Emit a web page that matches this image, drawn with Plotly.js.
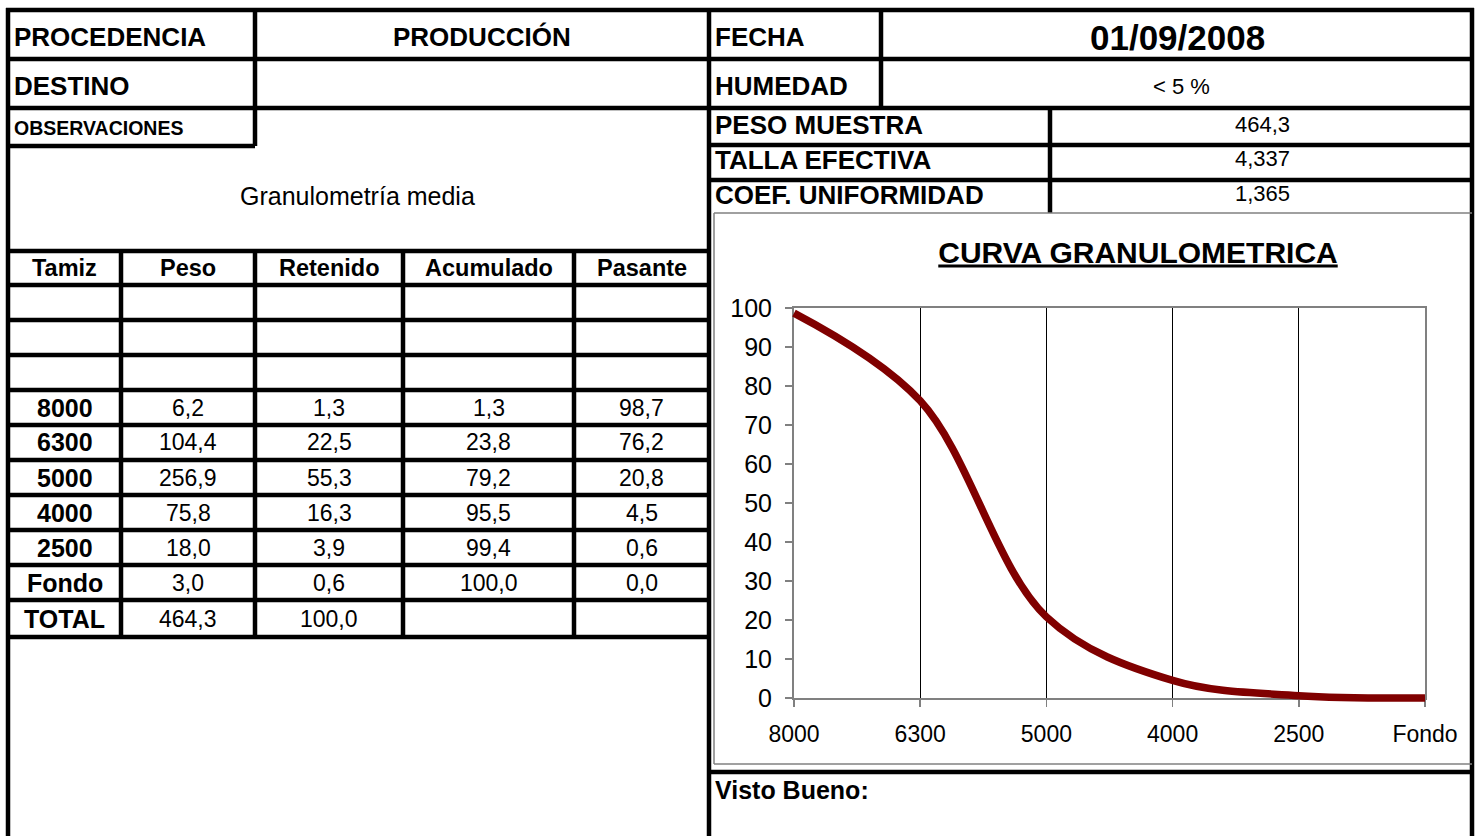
<!DOCTYPE html>
<html>
<head>
<meta charset="utf-8">
<script src="https://cdn.plot.ly/plotly-3.0.1.min.js"></script>
<style>
html,body{margin:0;padding:0;background:#fff;}
#chart{width:1480px;height:836px;}
</style>
</head>
<body>
<div id="chart"></div>
<script>
// ---- data ----
const tamiz = ['8000', '6300', '5000', '4000', '2500', 'Fondo'];
const peso = [6.2, 104.4, 256.9, 75.8, 18.0, 3.0];
const retenido = [1.3, 22.5, 55.3, 16.3, 3.9, 0.6];
const acumulado = [1.3, 23.8, 79.2, 95.5, 99.4, 100.0];
const pasante = [98.7, 76.2, 20.8, 4.5, 0.6, 0.0];
const totalPeso = 464.3;
const totalRetenido = 100.0;
const headers = ['Tamiz', 'Peso', 'Retenido', 'Acumulado', 'Pasante'];
const procedencia = 'PRODUCCIÓN';
const fecha = '01/09/2008';
const humedad = '< 5 %';
const pesoMuestra = '464,3';
const tallaEfectiva = '4,337';
const coefUniformidad = '1,365';
const chartTitle = 'CURVA GRANULOMETRICA';
const yTicks = [0, 10, 20, 30, 40, 50, 60, 70, 80, 90, 100];

// ---- helpers ----
const W = 1480, H = 836;
const FONT = 'Liberation Sans, Arial, sans-serif';
const px = x => x / W;
const py = y => 1 - y / H;
const fmt = v => v.toFixed(1).replace('.', ',');

const shapes = [];
function hl(y, x0, x1, w, c) {
  shapes.push({type: 'line', xref: 'paper', yref: 'paper', x0: px(x0), x1: px(x1), y0: py(y), y1: py(y),
    line: {color: c || '#000', width: w || 4.5}});
}
function vl(x, y0, y1, w, c) {
  shapes.push({type: 'line', xref: 'paper', yref: 'paper', x0: px(x), x1: px(x), y0: py(y0), y1: py(y1),
    line: {color: c || '#000', width: w || 4.5}});
}
const annotations = [];
function txt(t, x, y, size, bold, anchor) {
  annotations.push({text: bold ? '<b>' + t + '</b>' : t, xref: 'paper', yref: 'paper',
    x: px(x), y: py(y), xanchor: anchor || 'center', yanchor: 'middle', showarrow: false,
    font: {family: FONT, size: size, color: '#000'}});
}

// ---- form grid ----
const L = 8, M = 709, R = 1472;
hl(10, L - 2, R + 2);
hl(59, L, R);
hl(108, L, R);
hl(146, L, 255);
vl(L, 8, 836);
vl(255, 10, 146);
vl(M, 8, 836);
vl(R, 8, 836);
// table
const rowLines = [251, 285, 320, 355, 390, 425, 460, 495, 530, 565, 600, 637];
rowLines.forEach(y => hl(y, L, M));
const colX = [L, 121, 255, 403, 574, M];
colX.slice(1, 5).forEach(x => vl(x, 251, 637));
// right block
vl(881, 10, 108);
hl(145, M, R);
hl(180, M, R);
vl(1050, 108, 213);
// chart box (thin grey)
hl(213, 714, R, 1.5, '#808080');
vl(714, 213, 764, 1.5, '#808080');
hl(764, 714, R, 1.5, '#808080');
hl(772, M, R);

// ---- texts ----
txt('PROCEDENCIA', 12, 37, 26, true, 'left');
txt(procedencia, 482, 37, 26, true);
txt('DESTINO', 12, 86, 26, true, 'left');
txt('OBSERVACIONES', 12, 128, 19.5, true, 'left');
txt('Granulometría media', 357, 196, 25, false);
headers.forEach((h, i) => txt(h, (colX[i] + colX[i + 1]) / 2, 268, 23.5, true));
const rowY = [407.5, 442.5, 477.5, 512.5, 547.5, 582.5];
tamiz.forEach((t, i) => {
  const y = rowY[i];
  txt(t, (colX[0] + colX[1]) / 2, y, 25, true);
  txt(fmt(peso[i]), (colX[1] + colX[2]) / 2, y, 23, false);
  txt(fmt(retenido[i]), (colX[2] + colX[3]) / 2, y, 23, false);
  txt(fmt(acumulado[i]), (colX[3] + colX[4]) / 2, y, 23, false);
  txt(fmt(pasante[i]), (colX[4] + colX[5]) / 2, y, 23, false);
});
txt('TOTAL', (colX[0] + colX[1]) / 2, 619, 25, true);
txt(fmt(totalPeso), (colX[1] + colX[2]) / 2, 619, 23, false);
txt(fmt(totalRetenido), (colX[2] + colX[3]) / 2, 619, 23, false);

txt('FECHA', 713, 37, 26, true, 'left');
txt(fecha, 1177, 37, 35, true);
txt('HUMEDAD', 713, 86, 26, true, 'left');
txt(humedad, 1181, 86, 22, false);
txt('PESO MUESTRA', 713, 125, 26, true, 'left');
txt(pesoMuestra, 1262, 124, 22, false);
txt('TALLA EFECTIVA', 713, 160, 26, true, 'left');
txt(tallaEfectiva, 1262, 159, 22, false);
txt('COEF. UNIFORMIDAD', 713, 195, 26, true, 'left');
txt(coefUniformidad, 1262, 194, 22, false);
txt('Visto Bueno:', 713, 790, 25, true, 'left');

// ---- chart geometry ----
const pL = 794, pR = 1425, pT = 308, pB = 698;
const ux = (pR - pL) / (tamiz.length - 1);
const uy = (pB - pT) / 100;
const ext = 14;

const traces = [
  {x: tamiz, y: pasante, xaxis: 'x', yaxis: 'y', mode: 'lines', line: {width: 0}, hoverinfo: 'skip', showlegend: false},
  {x: tamiz, y: pasante, xaxis: 'x2', yaxis: 'y2', mode: 'lines',
   line: {color: '#800000', width: 7.5, shape: 'spline', smoothing: 1}, showlegend: false}
];

const layout = {
  width: W, height: H,
  margin: {l: 0, r: 0, t: 0, b: 0, pad: 0},
  paper_bgcolor: '#fff', plot_bgcolor: 'rgba(0,0,0,0)',
  showlegend: false,
  title: {text: chartTitle, x: 1138 / W, xref: 'paper', xanchor: 'center', y: py(252), yref: 'paper', yanchor: 'middle',
    font: {family: FONT, size: 30, color: '#000', weight: 'bold', lineposition: 'under'}},
  xaxis: {domain: [px(pL), px(pR)], type: 'category', categoryorder: 'array', categoryarray: tamiz,
    range: [0, tamiz.length - 1], showgrid: true, gridcolor: '#000', gridwidth: 1,
    showline: true, linecolor: '#808080', linewidth: 2, mirror: true,
    ticks: 'outside', ticklen: 7, tickcolor: '#808080', tickwidth: 1.5,
    tickfont: {family: FONT, size: 23, color: '#000'}, ticklabelstandoff: 7,
    zeroline: false, fixedrange: true, anchor: 'y'},
  yaxis: {domain: [py(pB), py(pT)], range: [0, 100], tickvals: yTicks, showgrid: false,
    showline: true, linecolor: '#808080', linewidth: 2, mirror: true,
    ticks: 'outside', ticklen: 7, tickcolor: '#808080', tickwidth: 1.5,
    tickfont: {family: FONT, size: 25, color: '#000'}, ticklabelstandoff: 8,
    zeroline: false, fixedrange: true, anchor: 'x'},
  xaxis2: {domain: [px(pL - ext), px(pR + ext)], type: 'category', categoryorder: 'array', categoryarray: tamiz,
    range: [-ext / ux, tamiz.length - 1 + ext / ux], visible: false, anchor: 'y2', fixedrange: true},
  yaxis2: {domain: [py(pB + ext), py(pT - ext)], range: [-ext / uy, 100 + ext / uy], visible: false,
    anchor: 'x2', fixedrange: true},
  shapes: shapes,
  annotations: annotations
};

Plotly.newPlot('chart', traces, layout, {staticPlot: true, displayModeBar: false});
</script>
</body>
</html>
